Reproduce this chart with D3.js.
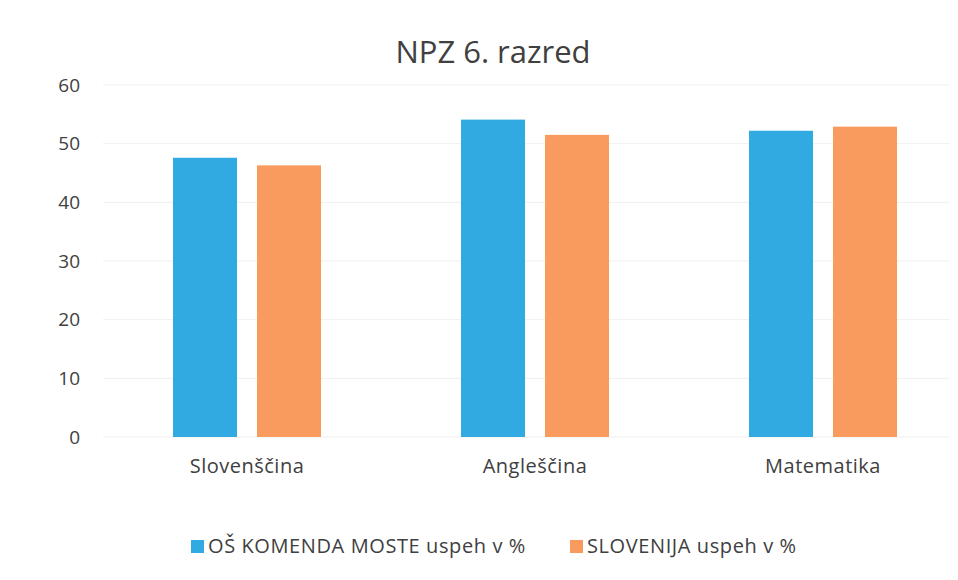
<!DOCTYPE html>
<html>
<head>
<meta charset="utf-8">
<script src="https://cdn.jsdelivr.net/npm/d3@7"></script>
<style>
  body { margin: 0; background: #fff; }
  svg text { font-family: "Open Sans", "Lato", sans-serif; fill: #404040; }
  .tick text { font-size: 19px; }
</style>
</head>
<body>
<svg width="958" height="580"></svg>
<script>
var categories = ["Slovenščina", "Angleščina", "Matematika"];
var seriesNames = ["OŠ KOMENDA MOSTE uspeh v %", "SLOVENIJA uspeh v %"];
var schoolValues = [47.6, 54.1, 52.2];
var sloveniaValues = [46.3, 51.5, 52.9];
var yTicks = [0, 10, 20, 30, 40, 50, 60];
var colors = ["#31a9e1", "#f99b5f"];

var svg = d3.select("svg"),
    width = +svg.attr("width"),
    height = +svg.attr("height");

var plot = { left: 103, right: 967, top: 85, bottom: 437 };

var x = d3.scaleBand()
    .domain(categories)
    .range([plot.left, plot.right])
    .paddingInner(0.486)
    .paddingOuter(0.243);

var xs = d3.scaleBand()
    .domain(seriesNames)
    .range([0, x.bandwidth()])
    .paddingInner(0.238);

var y = d3.scaleLinear()
    .domain([0, 60])
    .range([plot.bottom, plot.top]);

// grid
svg.append("g")
    .attr("class", "grid")
    .selectAll("line")
    .data(yTicks)
    .enter().append("line")
      .attr("x1", plot.left)
      .attr("x2", 950)
      .attr("y1", function(d) { return y(d); })
      .attr("y2", function(d) { return y(d); })
      .attr("stroke", "#f0f0f0")
      .attr("stroke-width", 1);

// y axis labels only
var yAxis = svg.append("g")
    .attr("transform", "translate(80,0)")
    .call(d3.axisLeft(y).tickValues(yTicks).tickSize(0).tickPadding(0));
yAxis.select(".domain").remove();

// bars
var rows = categories.map(function(c, i) {
  return { cat: c, values: [schoolValues[i], sloveniaValues[i]] };
});

var groups = svg.append("g")
    .selectAll("g")
    .data(rows)
    .enter().append("g")
      .attr("transform", function(d) { return "translate(" + x(d.cat) + ",0)"; });

groups.selectAll("rect")
    .data(function(d) { return d.values.map(function(v, j) { return { s: seriesNames[j], v: v, j: j }; }); })
    .enter().append("rect")
      .attr("x", function(d) { return xs(d.s); })
      .attr("width", xs.bandwidth())
      .attr("y", function(d) { return y(d.v); })
      .attr("height", function(d) { return y(0) - y(d.v); })
      .attr("fill", function(d) { return colors[d.j]; });

// x labels
var xAxis = svg.append("g")
    .attr("transform", "translate(0," + (plot.bottom + 22) + ")")
    .call(d3.axisBottom(x).tickSize(0).tickPadding(0));
xAxis.select(".domain").remove();
xAxis.selectAll(".tick text")
    .style("font-size", "20px")
    .style("letter-spacing", "0.5px");

// title
svg.append("text")
    .attr("x", 493)
    .attr("y", 63)
    .attr("text-anchor", "middle")
    .style("font-size", "31px")
    .text("NPZ 6. razred");

// legend
var legendPos = [191, 570];
var legend = svg.append("g")
    .selectAll("g")
    .data(seriesNames)
    .enter().append("g")
      .attr("transform", function(d, i) { return "translate(" + legendPos[i] + ",546)"; });

legend.append("rect")
    .attr("x", 0)
    .attr("y", -6)
    .attr("width", 13)
    .attr("height", 13)
    .attr("fill", function(d, i) { return colors[i]; });

legend.append("text")
    .attr("x", 17)
    .attr("y", 7)
    .style("font-size", "20px")
    .style("letter-spacing", "0.6px")
    .text(function(d) { return d; });
</script>
</body>
</html>
